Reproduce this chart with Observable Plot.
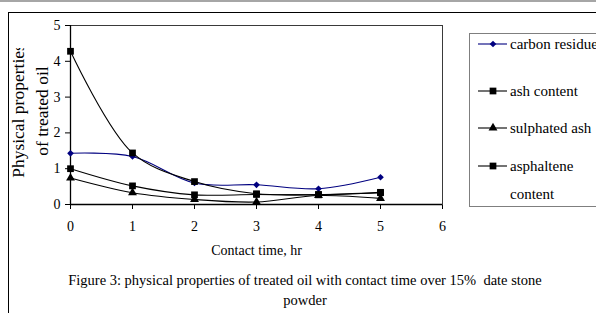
<!DOCTYPE html>
<html><head><meta charset="utf-8">
<script src="https://cdn.jsdelivr.net/npm/d3@7"></script>
<script src="https://cdn.jsdelivr.net/npm/@observablehq/plot@0.6"></script>
<style>
body{margin:0;background:#fff;}
#wrap{position:relative;width:596px;height:313px;overflow:hidden;background:#fff;font-family:"Liberation Serif","Times New Roman",serif;color:#000;}
#topline{position:absolute;left:0;top:0;width:596px;height:2px;background:#a6a6a6;}
#frame{position:absolute;left:8px;top:12px;width:700px;height:400px;border-left:1.5px solid #000;border-top:1.5px solid #000;}
#chart{position:absolute;left:0;top:0;}
#legend{position:absolute;left:469px;top:33px;width:160px;height:172px;border:1px solid #7f7f7f;background:#fff;}
.lrow{position:absolute;left:0;font-size:15px;line-height:28px;white-space:nowrap;}
.lrow svg{position:absolute;left:8px;}
.lrow span{position:absolute;left:40px;}
.cap{position:absolute;width:610px;text-align:center;font-size:14.5px;line-height:17px;white-space:nowrap;}
</style></head><body><div id="wrap"><div id="topline"></div><div id="frame"></div></div>
<script>
// ---- data ----
const contactTime = [0, 1, 2, 3, 4, 5];
const carbonResidue = [1.43, 1.34, 0.60, 0.55, 0.44, 0.76];
const ashContent = [1.00, 0.52, 0.27, 0.28, 0.27, 0.34];
const sulphatedAsh = [0.74, 0.33, 0.14, 0.07, 0.25, 0.17];
const asphalteneContent = [4.28, 1.44, 0.64, 0.30, 0.28, 0.33];
const seriesNames = ["carbon residue", "ash content", "sulphated ash", "asphaltene content"];
const xTicks = [0, 1, 2, 3, 4, 5, 6];
const yTicks = [0, 1, 2, 3, 4, 5];
const xLabel = "Contact time, hr";
const yLabelLines = ["Physical properties", "of treated oil"];
const captionLines = ["Figure 3: physical properties of treated oil with contact time over 15%\u00a0\u00a0date stone", "powder"];

// ---- styles ----
const seriesStyle = {
  "carbon residue": {color: "#000080", symbol: "diamond2", r: 3},
  "ash content": {color: "#000000", symbol: "square", r: 3.8},
  "sulphated ash": {color: "#000000", symbol: "triangle", r: 3.3},
  "asphaltene content": {color: "#000000", symbol: "square", r: 3.8}
};
const allValues = [carbonResidue, ashContent, sulphatedAsh, asphalteneContent];
const rows = [];
seriesNames.forEach((name, i) => contactTime.forEach((t, j) => rows.push({series: name, time: t, value: allValues[i][j]})));

const marks = [
  Plot.frame({stroke: "#3a3a3a", strokeWidth: 1}),
  Plot.ruleY([0], {stroke: "#000", strokeWidth: 1.3}),
  Plot.ruleX([0], {stroke: "#000", strokeWidth: 1.3})
];
seriesNames.forEach(name => {
  const st = seriesStyle[name];
  const data = rows.filter(d => d.series === name);
  marks.push(Plot.line(data, {x: "time", y: "value", stroke: st.color, strokeWidth: 1.1, curve: "catmull-rom"}));
});
seriesNames.forEach(name => {
  const st = seriesStyle[name];
  const data = rows.filter(d => d.series === name);
  marks.push(Plot.dot(data, {x: "time", y: "value", symbol: () => st.symbol, r: st.r, fill: st.color, stroke: "none"}));
});

const chart = Plot.plot({
  width: 596, height: 262,
  marginLeft: 70, marginRight: 154, marginTop: 25, marginBottom: 58,
  style: {fontFamily: "'Liberation Serif', 'Times New Roman', serif", fontSize: "14px", background: "transparent", color: "#000", overflow: "visible"},
  x: {domain: [0, 6], ticks: xTicks, tickSize: 5, tickPadding: 12, tickFormat: d => String(d), label: xLabel, labelAnchor: "center", labelArrow: "none", labelOffset: 50},
  y: {domain: [0, 5], ticks: yTicks, tickSize: 5, tickPadding: 5, tickFormat: d => String(d), label: null},
  symbol: {type: "identity"},
  marks
});
chart.id = "chart";
const wrap = document.getElementById("wrap");
wrap.appendChild(chart);
d3.select(chart).selectAll("text").attr("fill", "#000").style("font-size", "14px");

// y label (clipped at top like the reference)
const ys = d3.select(wrap).append("svg").attr("width", 70).attr("height", 250)
  .style("position", "absolute").style("left", "0px").style("top", "0px");
ys.append("clipPath").attr("id", "ylc").append("rect").attr("x", 0).attr("y", 48).attr("width", 70).attr("height", 200);
const yg = ys.append("g").attr("clip-path", "url(#ylc)");
const yCenters = [18, 42];
yLabelLines.forEach((t, i) => {
  yg.append("text").attr("transform", `translate(${yCenters[i]},111) rotate(-90)`)
    .attr("text-anchor", "middle").attr("dominant-baseline", "central")
    .style("font-family", "'Liberation Serif', serif").style("font-size", "17.5px").text(t);
});

// legend
const legend = d3.select(wrap).append("div").attr("id", "legend");
const rowTops = [-4, 43, 80, 118];
seriesNames.forEach((name, i) => {
  const st = seriesStyle[name];
  const row = legend.append("div").attr("class", "lrow").style("top", rowTops[i] + "px");
  const sw = row.append("svg").attr("width", 30).attr("height", 28);
  sw.append("line").attr("x1", 0).attr("x2", 29).attr("y1", 14).attr("y2", 14).attr("stroke", st.color).attr("stroke-width", 1.1);
  const symType = {diamond2: d3.symbolDiamond2, square: d3.symbolSquare, triangle: d3.symbolTriangle}[st.symbol];
  sw.append("path").attr("transform", "translate(15,14)").attr("fill", st.color)
    .attr("d", d3.symbol().type(symType).size(Math.PI * st.r * st.r)());
  const parts = name === "asphaltene content" ? ["asphaltene", "content"] : [name];
  const sp = row.append("span");
  parts.forEach((p, k) => { if (k) sp.append("br"); sp.append("tspan").text(p); });
});

// caption
const capTops = [272, 292];
captionLines.forEach((t, i) => {
  d3.select(wrap).append("div").attr("class", "cap")
    .style("left", "0px").style("top", capTops[i] + "px").text(t);
});
</script></body></html>
